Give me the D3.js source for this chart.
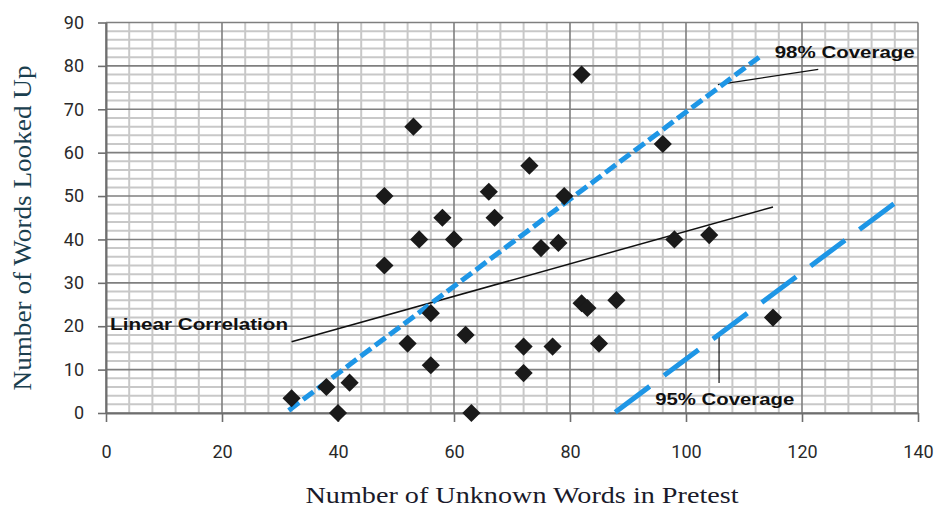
<!DOCTYPE html>
<html><head><meta charset="utf-8">
<script src="https://cdn.jsdelivr.net/npm/d3@7"></script>
<style>body{margin:0;background:#fff}svg{display:block}</style>
</head><body>
<svg id="c" width="937" height="510"></svg>
<script>
// Data
const pretest = [32,38,40,42,48,48,52,53,54,56,56,58,60,62,63,66,67,72,72,73,75,77,78,79,82,82,83,85,88,96,98,104,115];
const lookedUp = [3.4,6,0,7,34,50,16,66,40,23,11,45,40,18,0,51,45,15.3,9.2,57,38,15.3,39.2,50,78,25.3,24.2,16,26,62,40,41,22];
const xTicks = [0,20,40,60,80,100,120,140];
const yTicks = [0,10,20,30,40,50,60,70,80,90];
const linearCorrelation = [[32,16.4],[115,47.5]];
const coverage98 = [[31.5,0.6],[112.6,82]];
const coverage95 = [[87.8,0.2],[137.3,49.7]];
const leader98 = [[105.5,75.7],[122.8,79.2]];
const leader95 = [[105.7,18],[105.7,6.9]];
const labels = [
  {text:"Linear Correlation", x:0.7, y:20.5, len:178},
  {text:"98% Coverage", x:115.3, y:83.2, len:140},
  {text:"95% Coverage", x:94.7, y:3.2, len:139}
];

const svg = d3.select("#c");
const x = d3.scaleLinear().domain([0,140]).range([106,918]);
const y = d3.scaleLinear().domain([0,90]).range([413,22.5]);

const g = svg.append("g");
// minor grid
g.selectAll("line.mx").data(d3.range(0,141,4).filter(v=>v%20!==0)).join("line")
  .attr("x1",d=>x(d)).attr("x2",d=>x(d)).attr("y1",y(0)).attr("y2",y(90))
  .attr("stroke","#c8c8c8").attr("stroke-width",2);
g.selectAll("line.my").data(d3.range(0,91,2).filter(v=>v%10!==0)).join("line")
  .attr("x1",x(0)).attr("x2",x(140)).attr("y1",d=>y(d)).attr("y2",d=>y(d))
  .attr("stroke","#c8c8c8").attr("stroke-width",2);
// major grid
g.selectAll("line.Mx").data(xTicks).join("line")
  .attr("x1",d=>x(d)).attr("x2",d=>x(d)).attr("y1",y(0)).attr("y2",y(90))
  .attr("stroke","#7f7f7f").attr("stroke-width",1.6);
g.selectAll("line.My").data(yTicks).join("line")
  .attr("x1",x(0)).attr("x2",x(140)).attr("y1",d=>y(d)).attr("y2",d=>y(d))
  .attr("stroke","#7f7f7f").attr("stroke-width",1.6);

// axes
const xAxis = d3.axisBottom(x).tickValues(xTicks).tickSize(9).tickPadding(30).tickSizeOuter(0);
const yAxis = d3.axisLeft(y).tickValues(yTicks).tickSize(8).tickPadding(14).tickSizeOuter(0);
const ax = svg.append("g").attr("transform",`translate(0,${y(0)})`).call(xAxis);
const ay = svg.append("g").attr("transform",`translate(${x(0)},0)`).call(yAxis);
[ax,ay].forEach(a=>{
  a.select(".domain").attr("stroke","#6e6e6e").attr("stroke-width",2);
  a.selectAll(".tick line").attr("stroke","#6e6e6e").attr("stroke-width",1.6);
  a.selectAll(".tick text").attr("fill","#2a2a2a").attr("font-size",18)
    .attr("font-family","'Liberation Sans Narrow','Roboto','Liberation Sans',sans-serif");
});
ax.selectAll(".tick text").attr("dy","0.32em");

// lines
const line = d3.line().x(d=>x(d[0])).y(d=>y(d[1]));
svg.append("path").attr("d",line(linearCorrelation)).attr("stroke","#111").attr("stroke-width",1.5).attr("fill","none");
svg.append("path").attr("d",line(leader98)).attr("stroke","#111").attr("stroke-width",1.2).attr("fill","none");
svg.append("path").attr("d",line(leader95)).attr("stroke","#111").attr("stroke-width",1.2).attr("fill","none");
svg.append("path").attr("d",line(coverage98)).attr("stroke","#1e96e6").attr("stroke-width",5)
  .attr("stroke-dasharray","13,5").attr("fill","none");
svg.append("path").attr("d",line(coverage95)).attr("stroke","#1e96e6").attr("stroke-width",5)
  .attr("stroke-dasharray","43,18").attr("fill","none");

// points
const sym = d3.symbol().type(d3.symbolSquare).size(165);
svg.selectAll("path.pt").data(pretest.map((v,i)=>[v,lookedUp[i]])).join("path")
  .attr("d",sym).attr("transform",d=>`translate(${x(d[0])},${y(d[1])}) rotate(45)`)
  .attr("fill","#1a1a1a");

// annotation labels
svg.selectAll("text.ann").data(labels).join("text")
  .attr("x",d=>x(d.x)).attr("y",d=>y(d.y)).attr("dy","0.35em")
  .attr("font-family","'Liberation Sans',Arial,sans-serif").attr("font-weight","bold")
  .attr("font-size",17).attr("fill","#111")
  .attr("textLength",d=>d.len).attr("lengthAdjust","spacingAndGlyphs")
  .text(d=>d.text);

// axis titles
svg.append("text").attr("x",522).attr("y",495).attr("dy","0.35em").attr("text-anchor","middle")
  .attr("font-family","'Liberation Serif','Times New Roman',serif").attr("font-size",24)
  .attr("fill","#1a1a2a").attr("textLength",433).attr("lengthAdjust","spacingAndGlyphs")
  .text("Number of Unknown Words in Pretest");
svg.append("text").attr("transform","translate(22,228) rotate(-90)").attr("dy","0.35em").attr("text-anchor","middle")
  .attr("font-family","'Liberation Serif','Times New Roman',serif").attr("font-size",26)
  .attr("fill","#1b3f4f").attr("textLength",325).attr("lengthAdjust","spacingAndGlyphs")
  .text("Number of Words Looked Up");
</script>
</body></html>
